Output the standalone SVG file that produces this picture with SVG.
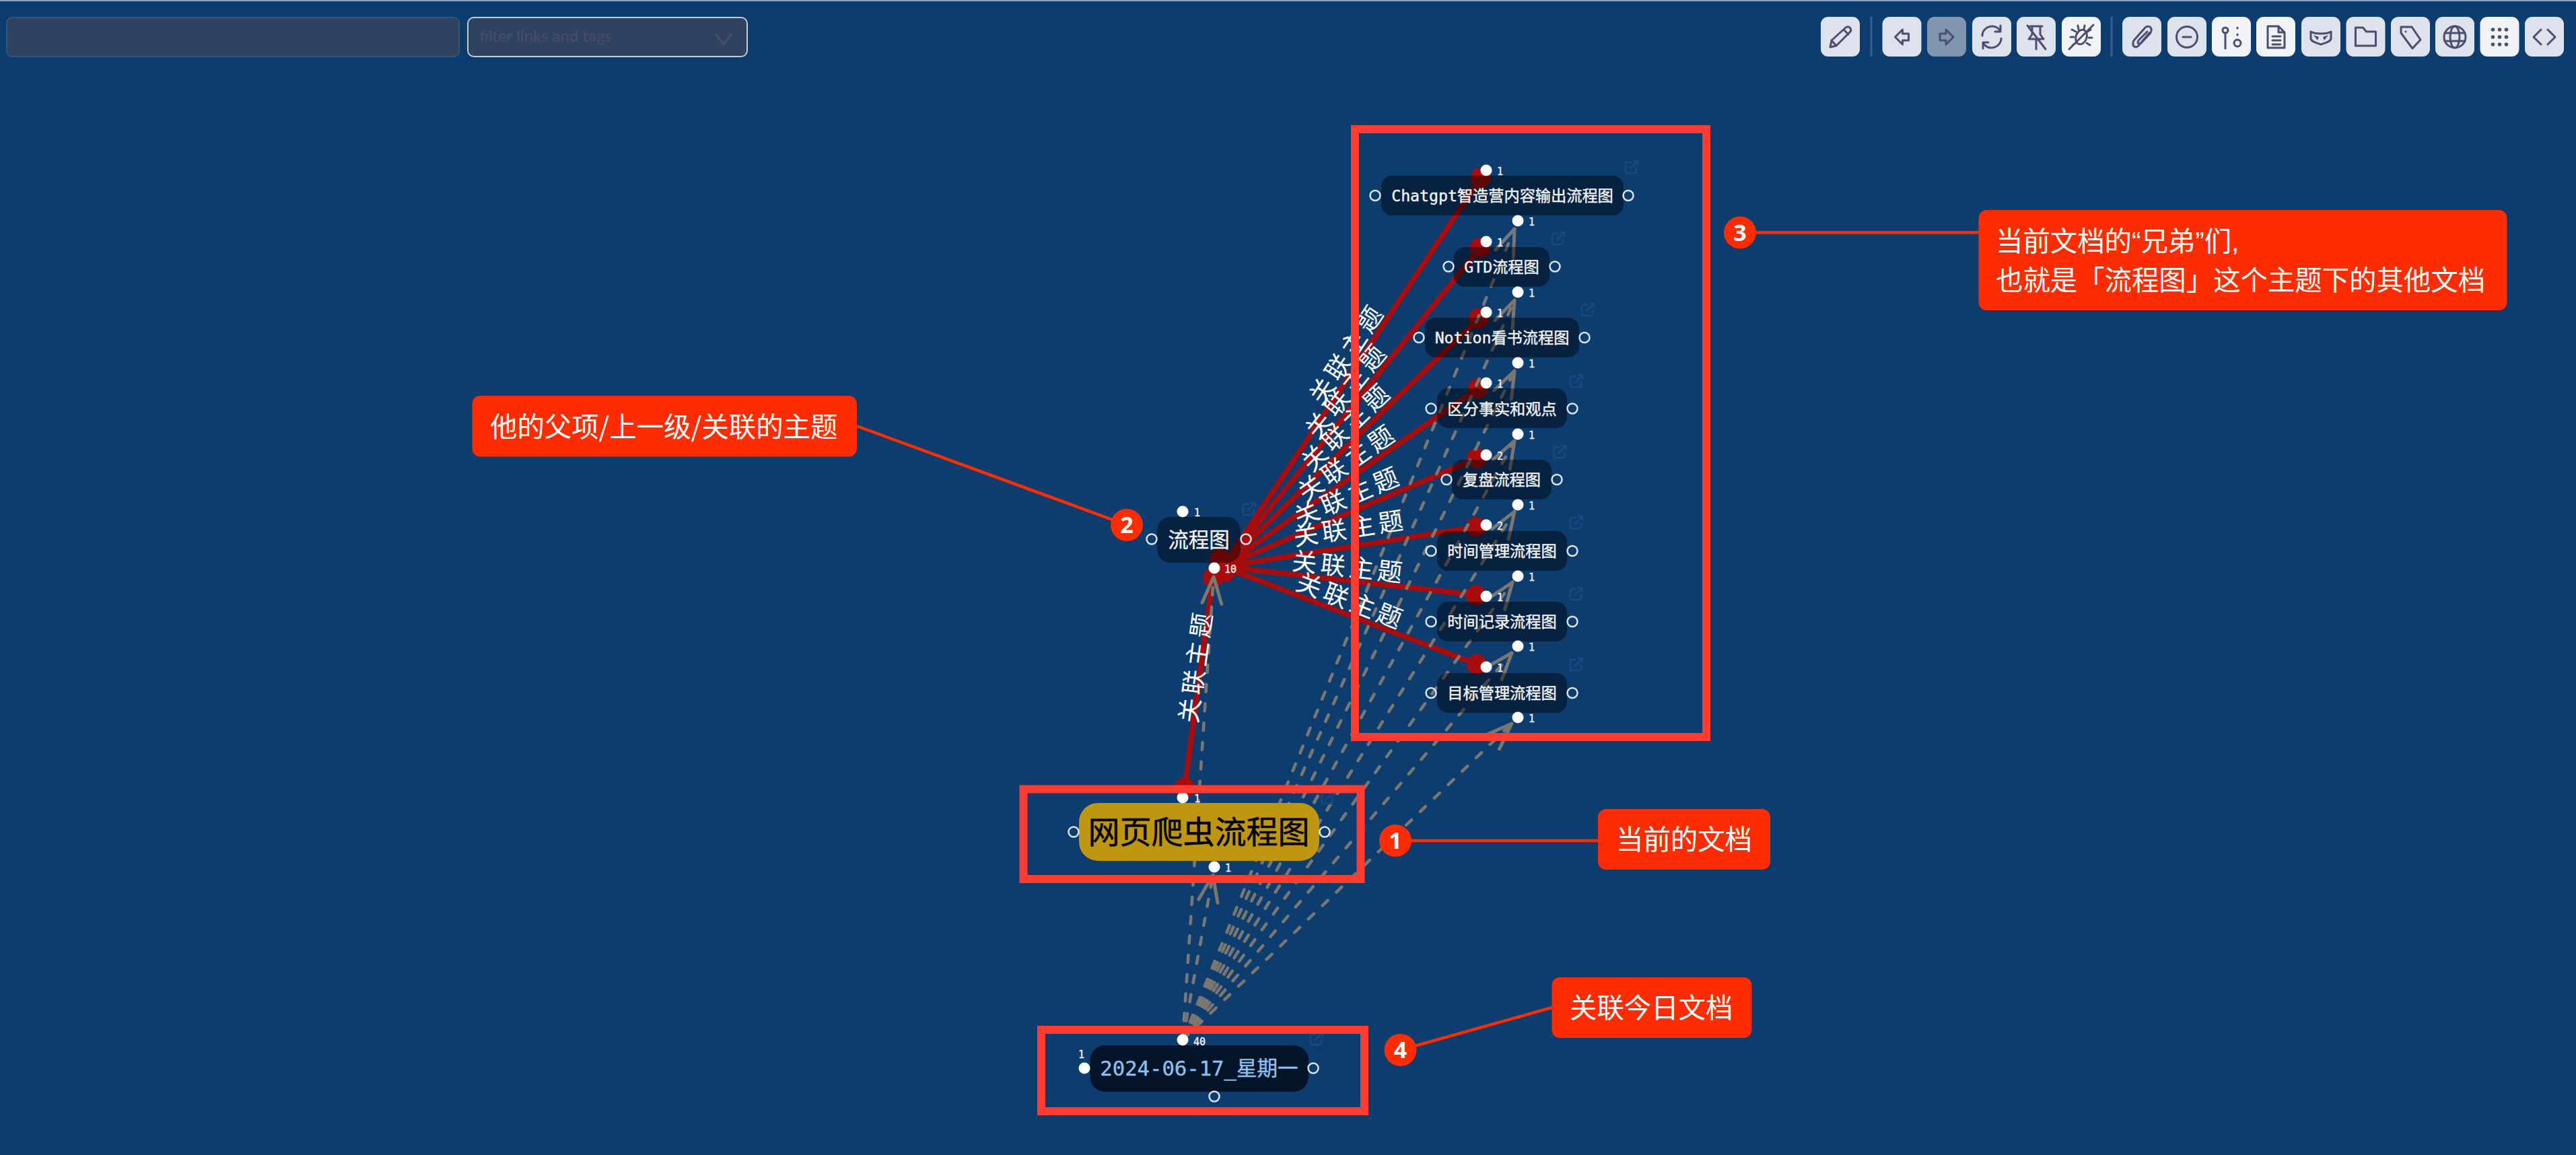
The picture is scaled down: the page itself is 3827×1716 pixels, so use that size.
<svg xmlns="http://www.w3.org/2000/svg" width="3827" height="1716" viewBox="0 0 3827 1716">
<style>
.bg{fill:#0d3c6e}
.btn{fill:#dde2ec}
.btn.w{fill:#f1f3f7}
.btn.a{fill:#8095ae}
.ic{fill:none;stroke:#4b4e6e;stroke-width:3;stroke-linecap:round;stroke-linejoin:round}
.icf{fill:#4b4e6e}
.red{stroke:#a80c0c;stroke-width:8;fill:none}
.redc{fill:#a80c0c}
.dash{stroke:#7a7672;stroke-width:4.6;fill:none;stroke-linecap:round;stroke-dasharray:11 17.8;marker-end:url(#arr)}
.el{font-family:"Noto Sans CJK SC",sans-serif;font-size:37px;fill:#fff;letter-spacing:5.5px;text-anchor:middle}
.nb{fill:#000;fill-opacity:.42}
.nt{font-family:"DejaVu Sans Mono","Noto Sans CJK SC",monospace;font-size:23.2px;fill:#f4f4f4;stroke:#f4f4f4;stroke-width:.4;text-anchor:middle}
.port{fill:none;stroke:#dbe3ec;stroke-width:2.5}
.dot{fill:#fff}
.cnt{font-family:"DejaVu Sans Mono",monospace;font-size:15px;fill:#f4f4f4;stroke:#f4f4f4;stroke-width:.4}
.ext{fill:none;stroke:#144b82;stroke-width:2.5;stroke-linecap:round;stroke-linejoin:round}
.box{fill:none;stroke:#fe3b30;stroke-width:12}
.cb{fill:#fe2c02}
.cl{stroke:#fe2c02;stroke-width:4.5;fill:none}
.ct{font-family:"Noto Sans CJK SC",sans-serif;font-size:40.4px;fill:#fff}
.q{font-family:"Liberation Sans",sans-serif}
.cn{font-family:"Noto Sans",sans-serif;font-size:34px;font-weight:700;fill:#fff;text-anchor:middle}
</style>
<defs>
<marker id="arr" markerUnits="userSpaceOnUse" markerWidth="60" markerHeight="50" refX="48" refY="25" orient="auto" overflow="visible">
<path d="M8.500,10.600 L48,25 L8.500,39.400" fill="none" stroke="#7a7672" stroke-width="5" stroke-linecap="round" stroke-linejoin="round"/>
</marker>
<path id="ex" d="M-1,-7 H-7 A2,2 0 0 0 -9,-5 V7 A2,2 0 0 0 -7,9 H5 A2,2 0 0 0 7,7 V1 M-2,2 L9,-9 M3,-9 H9 V-3"/>
</defs>
<rect class="bg" width="3827" height="1716"/>
<rect x="0" y="0" width="3827" height="2" fill="#8fa3b8"/>

<g id="toolbar-left">
<rect x="10" y="26" width="672" height="58" rx="8" fill="#2e435f" stroke="#3a5274" stroke-width="2"/>
<rect x="695" y="26" width="415" height="58" rx="9" fill="#2e435f" stroke="#c3cbd6" stroke-width="2"/>
<text x="712" y="62" font-family="Lato,sans-serif" font-size="24" fill="#4b4c68">filter links and tags</text>
<path d="M1063,50 L1075,66 L1087,50" fill="none" stroke="#4b4c68" stroke-width="3"/>
</g>

<g id="toolbar-right">
<rect x="2778.500" y="25" width="3" height="59" fill="#3a5f8c"/>
<rect x="3135.500" y="25" width="3" height="59" fill="#3a5f8c"/>
<rect class="btn" x="2705" y="25" width="58" height="59" rx="11"/>
<rect class="btn" x="2796.500" y="25" width="58" height="59" rx="11"/>
<rect class="btn a" x="2863" y="25" width="58" height="59" rx="11"/>
<rect class="btn" x="2930" y="25" width="58" height="59" rx="11"/>
<rect class="btn" x="2996" y="25" width="58" height="59" rx="11"/>
<rect class="btn w" x="3063" y="25" width="58" height="59" rx="11"/>
<rect class="btn" x="3153" y="25" width="58" height="59" rx="11"/>
<rect class="btn" x="3220" y="25" width="58" height="59" rx="11"/>
<rect class="btn w" x="3286" y="25" width="58" height="59" rx="11"/>
<rect class="btn w" x="3352" y="25" width="58" height="59" rx="11"/>
<rect class="btn" x="3419" y="25" width="58" height="59" rx="11"/>
<rect class="btn" x="3485.500" y="25" width="58" height="59" rx="11"/>
<rect class="btn" x="3552" y="25" width="58" height="59" rx="11"/>
<rect class="btn" x="3618" y="25" width="58" height="59" rx="11"/>
<rect class="btn w" x="3684.500" y="25" width="58" height="59" rx="11"/>
<rect class="btn" x="3751" y="25" width="58" height="59" rx="11"/>
<path class="ic" transform="translate(2734,55)" d="M-15,15 L-13,5 L8,-14 Q12,-17 15,-13 Q17,-10 14,-7 L-6,13 Z M-13,5 L-6,13 M5,-11 L12,-4"/>
<path class="ic" transform="translate(2825.500,55)" d="M-10,0 L1,-11 L1,-5 L10,-5 L10,5 L1,5 L1,11 Z"/>
<path class="ic" transform="translate(2892,55)" d="M10,0 L-1,-11 L-1,-5 L-10,-5 L-10,5 L-1,5 L-1,11 Z"/>
<path class="ic" transform="translate(2959,55)" d="M-14,-2 C-14,-11 -6,-16 1,-16 C6,-16 10,-13 13,-9 M13,-17 L13,-8 L5,-8 M14,2 C14,11 6,16 -1,16 C-6,16 -10,13 -13,9 M-13,17 L-13,8 L-5,8"/>
<path class="ic" transform="translate(3025,55)" d="M-9,-16 L9,-16 M-6,-16 L-6,-4 L-11,3 L11,3 L6,-4 L6,-16 M0,3 L0,18 M-13,-17 L14,18"/>
<g class="ic" transform="translate(3092,55)"><ellipse rx="8" ry="11" transform="rotate(20)"/><path d="M-18,18 L18,-18 M-8,-8 L-14,-11 M8,-7 L14,-11 M-11,0 L-16,0 M11,1 L16,1 M-8,9 L-13,12 M8,9 L13,12 M-4,-11 L-5,-17 M4,-11 L5,-17"/></g>
<path class="ic" transform="translate(3182,55)" d="M11,-6 L-5,13 C-9,17 -14,14 -13,9 C-13,7 -12,5 -11,4 L5,-14 C8,-17 13,-16 14,-12 C15,-9 13,-7 12,-5 L-1,9 C-3,11 -6,10 -6,8 C-6,7 -5,5 -4,4 L8,-8"/>
<g class="ic" transform="translate(3249,55)"><circle r="15.500"/><path d="M-6,0 L6,0"/></g>
<g class="ic" transform="translate(3315,55)"><circle cx="-9" cy="-10" r="4"/><path d="M-9,-6 L-9,17"/><circle cx="9" cy="9" r="5"/><path d="M9,-14 L9,-13 M9,-4 L9,-3"/></g>
<path class="ic" transform="translate(3381,55)" d="M-12,-16 L4,-16 L13,-7 L13,16 L-12,16 Z M4,-16 L4,-7 L13,-7 M-5,-1 L7,-1 M-5,5 L7,5 M-5,11 L7,11"/>
<g transform="translate(3448,55)"><path class="ic" d="M-15,-8 C-10,-5 -5,-5 0,-5 C5,-5 10,-5 15,-8 L15,2 C15,7 6,9 0,11 C-6,9 -15,7 -15,2 Z"/><path class="icf" d="M-11,-3 L-3,0 L-5,5 Z M11,-3 L3,0 L5,5 Z"/></g>
<path class="ic" transform="translate(3514.500,55)" d="M-15,-14 L-4,-14 L1,-8 L15,-8 L15,13 L-15,13 Z"/>
<g transform="translate(3581,55)"><path class="ic" d="M-14,-15 L2,-15 L15,4 L3,17 L-14,-6 Z"/><circle class="icf" cx="-7" cy="-8" r="1.500"/></g>
<g class="ic" transform="translate(3647,55)"><circle r="16"/><ellipse rx="7" ry="16"/><path d="M-15,-6 L15,-6 M-15,6 L15,6"/></g>
<g class="icf" transform="translate(3713.500,55)"><circle cx="-10" cy="-11" r="2.800"/><circle cy="-11" r="2.800"/><circle cx="10" cy="-11" r="2.800"/><circle cx="-10" r="2.800"/><circle r="2.800"/><circle cx="10" r="2.800"/><circle cx="-10" cy="11" r="2.800"/><circle cy="11" r="2.800"/><circle cx="10" cy="11" r="2.800"/></g>
<path class="ic" transform="translate(3780,55)" d="M-5,-11 L-16,0 L-5,11 M5,-11 L16,0 L5,11"/>
</g>

<g id="connectors">
<g id="related-edges">
<path class="red" d="M1817,842 L2200,264"/>
<path class="red" d="M1817,842 L2199,368"/>
<path class="red" d="M1817,842 L2197,473"/>
<path class="red" d="M1817,842 L2196,577"/>
<path class="red" d="M1817,842 L2194,681"/>
<path class="red" d="M1817,842 L2193,783"/>
<path class="red" d="M1817,842 L2193,884"/>
<path class="red" d="M1817,842 L2194,987"/>
<path class="red" d="M1802,858 L1760,1170"/>
<circle class="redc" cx="2200" cy="264" r="15"/>
<circle class="redc" cx="2199" cy="368" r="15"/>
<circle class="redc" cx="2197" cy="473" r="15"/>
<circle class="redc" cx="2196" cy="577" r="15"/>
<circle class="redc" cx="2194" cy="681" r="15"/>
<circle class="redc" cx="2193" cy="783" r="15"/>
<circle class="redc" cx="2193" cy="884" r="15"/>
<circle class="redc" cx="2194" cy="987" r="15"/>
<circle class="redc" cx="1760" cy="1170" r="15"/>
<circle class="redc" cx="1812" cy="830" r="15"/>
<circle class="redc" cx="1802" cy="858" r="15"/>
<circle class="redc" cx="1820" cy="850" r="15"/>
</g>
<g id="daily-edges">
<path class="dash" d="M1757,1545 L2250,340"/>
<path class="dash" d="M1757,1545 L2250,446"/>
<path class="dash" d="M1757,1545 L2250,551"/>
<path class="dash" d="M1757,1545 L2250,655"/>
<path class="dash" d="M1757,1545 L2250,760"/>
<path class="dash" d="M1757,1545 L2247,865"/>
<path class="dash" d="M1757,1545 L2246,970"/>
<path class="dash" d="M1757,1545 L2246,1075"/>
<path class="dash" d="M1757,1545 L1802,1300"/>
<path class="dash" d="M1757,1545 L1803,857"/>
</g>
<g id="edge-labels">
<text class="el" transform="translate(2008.500,553) rotate(-56.500)" x="19" y="-8">关联主题</text>
<text class="el" transform="translate(2008,605) rotate(-51.100)" x="15" y="-8">关联主题</text>
<text class="el" transform="translate(2007,657.500) rotate(-44.200)" x="12" y="-8">关联主题</text>
<text class="el" transform="translate(2006.500,709.500) rotate(-35)" x="9" y="-8">关联主题</text>
<text class="el" transform="translate(2005.500,761.500) rotate(-23.100)" x="7" y="-10">关联主题</text>
<text class="el" transform="translate(2005,812.500) rotate(-8.900)" x="5" y="-14">关联主题</text>
<text class="el" transform="translate(2005,863) rotate(6.400)" x="-3" y="-7">关联主题</text>
<text class="el" transform="translate(2005.500,914.500) rotate(21)" x="-6" y="-7">关联主题</text>
<text class="el" transform="translate(1780,990) rotate(-82.300)" x="0" y="10">关联主题</text>
</g>
</g>

<g id="node-parent">
<rect class="nb" x="1719" y="768" width="124" height="68" rx="20"/>
<text x="1781" y="813" font-family="Noto Sans CJK SC,sans-serif" font-size="30.500" fill="#f4f4f4" stroke="#f4f4f4" stroke-width=".3" text-anchor="middle">流程图</text>
<circle class="port" cx="1711" cy="801" r="7.500"/><circle class="port" cx="1851" cy="801" r="7.500"/>
<circle class="dot" cx="1757" cy="760" r="8.500"/><text class="cnt" x="1774" y="767">1</text>
<circle class="dot" cx="1804" cy="844" r="8.500"/><text class="cnt" x="1819" y="851">10</text>
<use href="#ex" class="ext" x="1856" y="756"/>
</g>

<g id="node-s1">
<rect class="nb" x="2052" y="261" width="360" height="59" rx="16"/>
<text class="nt" x="2232" y="299">Chatgpt智造营内容输出流程图</text>
<circle class="port" cx="2043" cy="290.500" r="7.500"/><circle class="port" cx="2419" cy="290.500" r="7.500"/>
<circle class="dot" cx="2208" cy="253" r="8.500"/><text class="cnt" x="2224" y="260">1</text>
<circle class="dot" cx="2255" cy="328" r="8.500"/><text class="cnt" x="2271" y="335">1</text>
<use href="#ex" class="ext" x="2424" y="248"/>
</g>
<g id="node-s2">
<rect class="nb" x="2160" y="367" width="142" height="59" rx="16"/>
<text class="nt" x="2231" y="404.500">GTD流程图</text>
<circle class="port" cx="2152" cy="396" r="7.500"/><circle class="port" cx="2310" cy="396" r="7.500"/>
<circle class="dot" cx="2208" cy="359" r="8.500"/><text class="cnt" x="2224" y="366">1</text>
<circle class="dot" cx="2255" cy="434" r="8.500"/><text class="cnt" x="2271" y="441">1</text>
<use href="#ex" class="ext" x="2315" y="354"/>
</g>
<g id="node-s3">
<rect class="nb" x="2117" y="472" width="229" height="59" rx="16"/>
<text class="nt" x="2231.500" y="510">Notion看书流程图</text>
<circle class="port" cx="2108" cy="501.500" r="7.500"/><circle class="port" cx="2354" cy="501.500" r="7.500"/>
<circle class="dot" cx="2208" cy="464" r="8.500"/><text class="cnt" x="2224" y="471">1</text>
<circle class="dot" cx="2255" cy="539" r="8.500"/><text class="cnt" x="2271" y="546">1</text>
<use href="#ex" class="ext" x="2359" y="460"/>
</g>
<g id="node-s4">
<rect class="nb" x="2135" y="577" width="193" height="59" rx="16"/>
<text class="nt" x="2231.500" y="615.500">区分事实和观点</text>
<circle class="port" cx="2126" cy="607" r="7.500"/><circle class="port" cx="2336" cy="607" r="7.500"/>
<circle class="dot" cx="2208" cy="569" r="8.500"/><text class="cnt" x="2224" y="576">1</text>
<circle class="dot" cx="2255" cy="645" r="8.500"/><text class="cnt" x="2271" y="652">1</text>
<use href="#ex" class="ext" x="2342" y="566"/>
</g>
<g id="node-s5">
<rect class="nb" x="2157" y="683" width="148" height="59" rx="16"/>
<text class="nt" x="2231" y="721">复盘流程图</text>
<circle class="port" cx="2149" cy="712.500" r="7.500"/><circle class="port" cx="2313" cy="712.500" r="7.500"/>
<circle class="dot" cx="2208" cy="676" r="8.500"/><text class="cnt" x="2224" y="683">2</text>
<circle class="dot" cx="2255" cy="750" r="8.500"/><text class="cnt" x="2271" y="757">1</text>
<use href="#ex" class="ext" x="2317.500" y="671"/>
</g>
<g id="node-s6">
<rect class="nb" x="2135" y="789" width="193" height="59" rx="16"/>
<text class="nt" x="2231.500" y="826.500">时间管理流程图</text>
<circle class="port" cx="2126" cy="818.500" r="7.500"/><circle class="port" cx="2336" cy="818.500" r="7.500"/>
<circle class="dot" cx="2208" cy="780" r="8.500"/><text class="cnt" x="2224" y="787">2</text>
<circle class="dot" cx="2255" cy="856" r="8.500"/><text class="cnt" x="2271" y="863">1</text>
<use href="#ex" class="ext" x="2342" y="776"/>
</g>
<g id="node-s7">
<rect class="nb" x="2135" y="894" width="193" height="59" rx="16"/>
<text class="nt" x="2231.500" y="932">时间记录流程图</text>
<circle class="port" cx="2126" cy="923.500" r="7.500"/><circle class="port" cx="2336" cy="923.500" r="7.500"/>
<circle class="dot" cx="2208" cy="886" r="8.500"/><text class="cnt" x="2224" y="893">1</text>
<circle class="dot" cx="2255" cy="960" r="8.500"/><text class="cnt" x="2271" y="967">1</text>
<use href="#ex" class="ext" x="2342" y="882"/>
</g>
<g id="node-s8">
<rect class="nb" x="2135" y="1000" width="193" height="59" rx="16"/>
<text class="nt" x="2231.500" y="1037.500">目标管理流程图</text>
<circle class="port" cx="2126" cy="1029.500" r="7.500"/><circle class="port" cx="2336" cy="1029.500" r="7.500"/>
<circle class="dot" cx="2208" cy="991" r="8.500"/><text class="cnt" x="2224" y="998">1</text>
<circle class="dot" cx="2255" cy="1066" r="8.500"/><text class="cnt" x="2271" y="1073">1</text>
<use href="#ex" class="ext" x="2342" y="987"/>
</g>

<g id="node-current">
<rect x="1603" y="1193" width="357" height="86" rx="28" fill="#bf960f"/>
<text x="1781" y="1253" font-family="Noto Sans CJK SC,sans-serif" font-size="47" fill="#000" stroke="#000" stroke-width=".5" text-anchor="middle">网页爬虫流程图</text>
<circle class="port" cx="1595" cy="1236" r="7.500"/><circle class="port" cx="1968" cy="1236" r="7.500"/>
<circle class="dot" cx="1757" cy="1185" r="8.500"/><text class="cnt" x="1774" y="1192">1</text>
<circle class="dot" cx="1804" cy="1288" r="8.500"/><text class="cnt" x="1820" y="1295">1</text>
<use href="#ex" class="ext" x="1972.600" y="1185"/>
</g>

<g id="node-daily">
<rect x="1619.500" y="1553" width="324.500" height="69" rx="22" fill="#041428"/>
<text x="1781.500" y="1598" font-family="DejaVu Sans Mono,Noto Sans CJK SC,monospace" font-size="30.600" fill="#8cc0ee" stroke="#8cc0ee" stroke-width=".4" text-anchor="middle">2024-06-17_星期一</text>
<circle class="dot" cx="1611" cy="1587" r="8.500"/><text class="cnt" x="1602" y="1572">1</text>
<circle class="dot" cx="1757" cy="1545" r="8.500"/><text class="cnt" x="1773" y="1553">40</text>
<circle class="port" cx="1951" cy="1587" r="7.500"/><circle class="port" cx="1804" cy="1629" r="7.500"/>
<use href="#ex" class="ext" x="1956" y="1543"/>
</g>

<g id="annotation-1">
<rect class="box" x="1520.500" y="1172.500" width="501" height="133.500"/>
<path class="cl" d="M2073,1249 L2374,1249"/>
<circle class="cb" cx="2073" cy="1249" r="24"/><text class="cn" x="2073" y="1261">1</text>
<rect class="cb" x="2374" y="1202" width="256" height="90" rx="12"/>
<text class="ct" x="2401" y="1262">当前的文档</text>
</g>
<g id="annotation-2">
<path class="cl" d="M1273,633 L1674,780"/>
<circle class="cb" cx="1674" cy="780" r="24"/><text class="cn" x="1674" y="792">2</text>
<rect class="cb" x="701.500" y="588" width="571.500" height="90.500" rx="12"/>
<text class="ct" x="728" y="649">他的父项/上一级/关联的主题</text>
</g>
<g id="annotation-3">
<rect class="box" x="2013" y="192" width="522" height="903"/>
<path class="cl" d="M2585,345.500 L2940,345.500"/>
<circle class="cb" cx="2585" cy="345.500" r="24"/><text class="cn" x="2585" y="357.500">3</text>
<rect class="cb" x="2939.500" y="312" width="785" height="149" rx="12"/>
<text class="ct" x="2965" y="373">当前文档的<tspan class="q">“</tspan>兄弟<tspan class="q">”</tspan>们<tspan class="q">,</tspan></text>
<text class="ct" x="2965" y="431">也就是「流程图」这个主题下的其他文档</text>
</g>
<g id="annotation-4">
<rect class="box" x="1547" y="1530" width="480" height="121"/>
<path class="cl" d="M2080.500,1560 L2305.500,1497"/>
<circle class="cb" cx="2080.500" cy="1560" r="24"/><text class="cn" x="2080.500" y="1572">4</text>
<rect class="cb" x="2305.500" y="1452" width="297" height="90" rx="12"/>
<text class="ct" x="2332" y="1512">关联今日文档</text>
</g>
</svg>
